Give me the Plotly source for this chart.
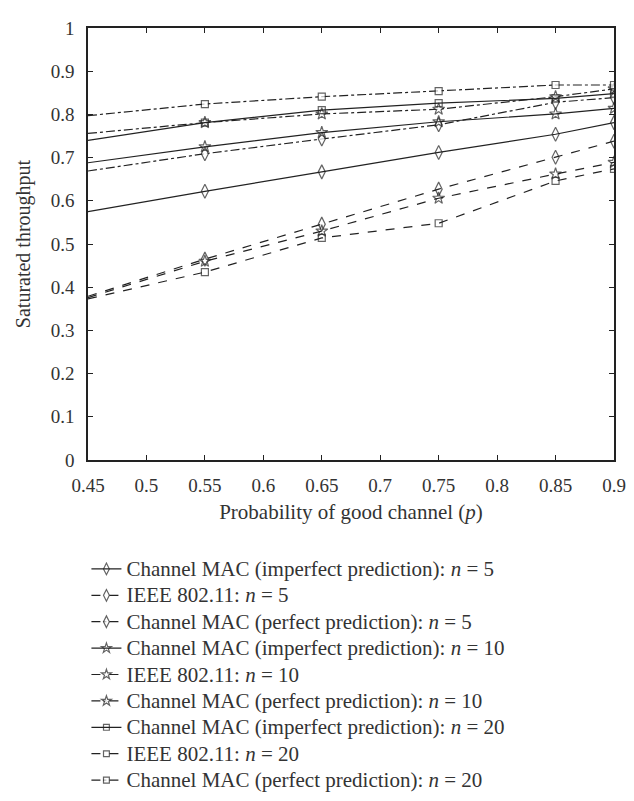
import plotly.graph_objects as go

# probability of good channel
p = [0.45, 0.55, 0.65, 0.75, 0.85, 0.9]

# saturated throughput
imperfect_n5 = [0.575, 0.622, 0.667, 0.712, 0.754, 0.781]
ieee_n5 = [0.379, 0.465, 0.546, 0.627, 0.701, 0.738]
perfect_n5 = [0.669, 0.709, 0.743, 0.776, 0.828, 0.839]

imperfect_n10 = [0.688, 0.725, 0.758, 0.783, 0.801, 0.814]
ieee_n10 = [0.376, 0.460, 0.530, 0.606, 0.662, 0.689]
perfect_n10 = [0.756, 0.781, 0.801, 0.812, 0.841, 0.859]

imperfect_n20 = [0.740, 0.781, 0.810, 0.826, 0.837, 0.848]
ieee_n20 = [0.373, 0.435, 0.514, 0.548, 0.646, 0.674]
perfect_n20 = [0.797, 0.824, 0.841, 0.854, 0.868, 0.868]

names = [
    "Channel MAC (imperfect prediction): <i>n</i> = 5",
    "IEEE 802.11: <i>n</i> = 5",
    "Channel MAC (perfect prediction): <i>n</i> = 5",
    "Channel MAC (imperfect prediction): <i>n</i> = 10",
    "IEEE 802.11: <i>n</i> = 10",
    "Channel MAC (perfect prediction): <i>n</i> = 10",
    "Channel MAC (imperfect prediction): <i>n</i> = 20",
    "IEEE 802.11: <i>n</i> = 20",
    "Channel MAC (perfect prediction): <i>n</i> = 20",
]
values = [imperfect_n5, ieee_n5, perfect_n5,
          imperfect_n10, ieee_n10, perfect_n10,
          imperfect_n20, ieee_n20, perfect_n20]

dashes = ["solid", "dash", "dashdot"]
symbols = ["diamond-tall", "star", "square"]
sym_size = {"diamond-tall": 10, "star": 9, "square": 7}

FONT = "Liberation Serif"
INK = "#222222"

fig = go.Figure()
for i, (name, vals) in enumerate(zip(names, values)):
    dash = dashes[i % 3]
    symbol = symbols[i // 3]
    perfect = dash == "dashdot"
    # the first point sits on the left axis and carries no marker
    sizes = [0] + [sym_size[symbol]] * (len(p) - 1)
    fig.add_trace(go.Scatter(
        x=p, y=vals,
        name='<span style="font-size:21px">' + name + '</span>',
        mode="lines+markers",
        line=dict(color=INK, width=1.2, dash=dash),
        marker=dict(symbol=symbol if perfect else symbol + "-open",
                    size=sizes, color="white" if perfect else INK,
                    line=dict(color=INK, width=1.2)),
    ))

axis_common = dict(
    showline=True, linecolor=INK, linewidth=1.5, mirror="ticks",
    ticks="inside", ticklen=5, tickcolor=INK, tickwidth=1.2,
    showgrid=False, zeroline=False,
    tickfont=dict(family=FONT, size=19, color="#333333"),
)

fig.update_layout(
    width=634, height=801,
    margin=dict(l=80, r=28, t=10, b=330),
    paper_bgcolor="white", plot_bgcolor="white",
    font=dict(family=FONT, size=19, color="#333333"),
    xaxis=dict(range=[0.45, 0.9], dtick=0.05, tick0=0.45,
               ticklabelstandoff=7,
               title=dict(text="Probability of good channel (<i>p</i>)",
                          font=dict(family=FONT, size=21), standoff=10),
               **axis_common),
    yaxis=dict(range=[0, 1], dtick=0.1,
               ticklabelstandoff=8,
               title=dict(text="Saturated throughput",
                          font=dict(family=FONT, size=20), standoff=15),
               **axis_common),
    legend=dict(x=-0.003, xanchor="left", y=-0.21, yanchor="top",
                font=dict(family=FONT, size=18, color="#333333"),
                bgcolor="rgba(0,0,0,0)", tracegroupgap=0),
    showlegend=True,
)

fig.write_html("out.html")
